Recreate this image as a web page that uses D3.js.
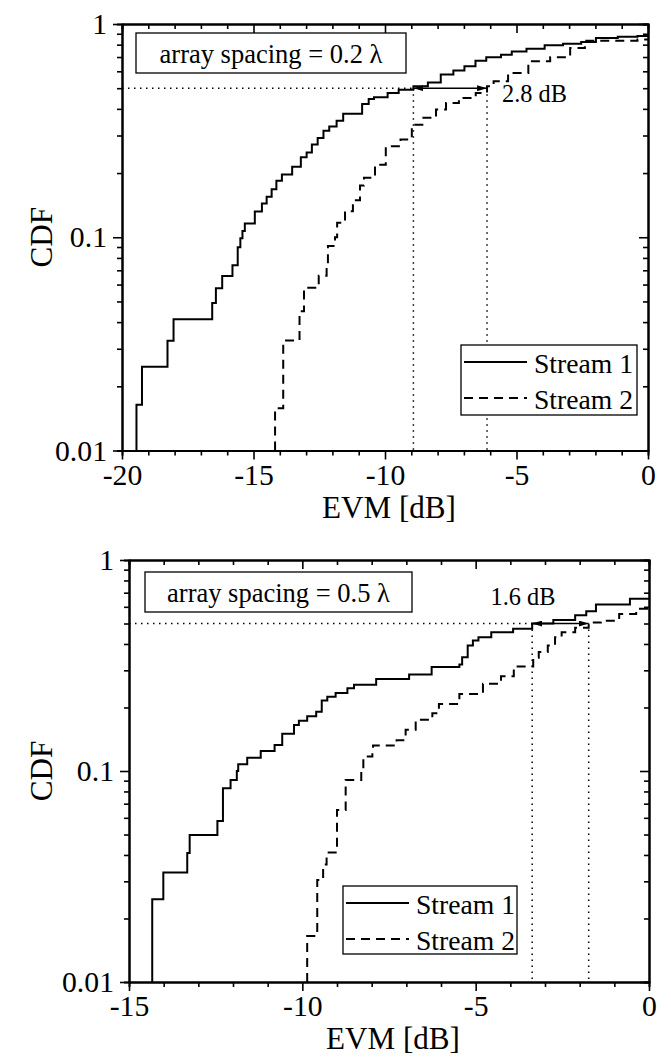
<!DOCTYPE html>
<html lang="en">
<head>
  <meta charset="UTF-8">
  <title>EVM CDF</title>
  <style>
    body { margin: 0; background: #fff; }
    svg { display: block; font-family: "Liberation Serif", "Times New Roman", serif; }
    .domain { stroke: #000; stroke-width: 2px; }
    .tick line { stroke: #000; stroke-width: 1.6px; }
    .tick text { fill: #000; }
  </style>
</head>
<body>
<script src="https://d3js.org/d3.v7.min.js"></script>
<script>
  // step points: [EVM dB, CDF level reached at that EVM]
  const stream1_02 = [
    [-19.45, 0.0164], [-19.24, 0.0247], [-18.27, 0.0327], [-18.04, 0.0412],
    [-16.57, 0.0492], [-16.43, 0.0576], [-16.19, 0.0658], [-15.80, 0.074],
    [-15.60, 0.0897], [-15.50, 0.099], [-15.42, 0.107], [-15.33, 0.116],
    [-14.95, 0.132], [-14.68, 0.144], [-14.50, 0.155], [-14.31, 0.168],
    [-14.13, 0.184], [-13.92, 0.197], [-13.53, 0.214], [-13.20, 0.237],
    [-12.98, 0.25], [-12.78, 0.272], [-12.56, 0.292], [-12.34, 0.316],
    [-12.12, 0.331], [-11.84, 0.352], [-11.59, 0.379], [-10.87, 0.422],
    [-10.62, 0.445], [-10.42, 0.453], [-9.90, 0.475], [-9.48, 0.492],
    [-8.92, 0.51], [-8.37, 0.531], [-7.88, 0.579], [-7.40, 0.606],
    [-6.98, 0.633], [-6.56, 0.673], [-6.15, 0.698], [-5.59, 0.718],
    [-5.18, 0.744], [-4.62, 0.766], [-3.93, 0.794], [-3.23, 0.809],
    [-2.54, 0.824], [-1.98, 0.859], [-1.15, 0.872], [-0.40, 0.879]
  ]
  const stream2_02 = [
    [-14.18, 0.0158], [-13.87, 0.0328], [-13.25, 0.045], [-13.08, 0.058],
    [-12.52, 0.066], [-12.22, 0.0745], [-12.17, 0.091], [-11.90, 0.1],
    [-11.82, 0.117], [-11.52, 0.1325], [-11.22, 0.149], [-10.95, 0.175],
    [-10.80, 0.19], [-10.38, 0.219], [-9.97, 0.267], [-9.41, 0.287],
    [-8.98, 0.337], [-8.58, 0.363], [-8.06, 0.397], [-7.68, 0.426],
    [-7.19, 0.45], [-6.55, 0.475], [-6.12, 0.51], [-5.87, 0.539],
    [-5.32, 0.589], [-4.55, 0.668], [-3.72, 0.698], [-2.96, 0.772],
    [-2.40, 0.835], [-0.40, 0.845]
  ]
  const stream1_05 = [
    [-14.33, 0.0247], [-14.01, 0.033], [-13.32, 0.0409], [-13.25, 0.0497],
    [-12.45, 0.058], [-12.29, 0.0828], [-12.07, 0.0906], [-11.89, 0.1],
    [-11.85, 0.1076], [-11.59, 0.1156], [-11.20, 0.1244], [-10.80, 0.1328],
    [-10.58, 0.15], [-10.24, 0.165], [-10.10, 0.173], [-9.86, 0.182],
    [-9.60, 0.191], [-9.44, 0.216], [-9.28, 0.225], [-9.04, 0.234],
    [-8.70, 0.247], [-8.51, 0.256], [-7.87, 0.273], [-6.92, 0.287],
    [-6.27, 0.311], [-5.47, 0.320], [-5.39, 0.346], [-5.23, 0.393],
    [-5.08, 0.415], [-4.92, 0.431], [-4.55, 0.455], [-3.92, 0.472],
    [-3.37, 0.5], [-2.76, 0.52], [-2.13, 0.547], [-1.81, 0.572],
    [-1.53, 0.615], [-0.55, 0.655]
  ]
  const stream2_05 = [
    [-9.86, 0.0165], [-9.57, 0.0304], [-9.40, 0.036], [-9.30, 0.0411],
    [-9.00, 0.0653], [-8.75, 0.0906], [-8.30, 0.1], [-8.24, 0.117],
    [-7.98, 0.124], [-7.96, 0.132], [-7.28, 0.140], [-7.02, 0.157],
    [-6.73, 0.175], [-6.25, 0.188], [-6.06, 0.208], [-5.47, 0.232],
    [-4.79, 0.259], [-4.27, 0.281], [-3.90, 0.313], [-3.34, 0.344],
    [-3.18, 0.366], [-2.92, 0.393], [-2.71, 0.431], [-2.52, 0.455],
    [-2.13, 0.477], [-1.74, 0.505], [-1.39, 0.516], [-0.86, 0.555],
    [-0.37, 0.587], [-0.05, 0.60]
  ]

  const yMajor = [0.01, 0.1, 1]
  const yLabels = ['0.01', '0.1', '1']
  const legendNames = ['Stream 1', 'Stream 2']
  const xTitle = 'EVM [dB]'
  const yTitle = 'CDF'

  // per panel: x range, spacing text, the two EVM points at CDF = 0.5, gap text
  const spacingText = ['array spacing = 0.2 \u03bb', 'array spacing = 0.5 \u03bb']
  const xDomains = [[-20, 0], [-15, 0]]
  const markX = [[-8.92, -6.12], [-3.37, -1.74]]
  const markY = 0.5
  const gapText = ['2.8 dB', '1.6 dB']

  const serif = '"Liberation Serif", "Times New Roman", serif'

  const svg = d3.select('body').append('svg')
    .attr('width', 671)
    .attr('height', 1059)

  // size fonts so the texts get the widths seen in the picture
  function measure(str, size) {
    const t = svg.append('text').attr('font-size', size).text(str)
    const w = t.node().getComputedTextLength()
    t.remove()
    return w
  }
  const fitSize = (str, width) => 30 * width / measure(str, 30)
  const fs = {
    tick: fitSize('0.01', 52),
    legend: fitSize('Stream 1', 99),
    box: fitSize(spacingText[0], 223),
    gap: fitSize(gapText[0], 65),
    title: fitSize(xTitle, 134)
  }

  const defs = svg.append('defs')
  defs.append('marker')
    .attr('id', 'head')
    .attr('viewBox', '0 0 10 6')
    .attr('refX', 10).attr('refY', 3)
    .attr('markerWidth', 10).attr('markerHeight', 6)
    .attr('markerUnits', 'userSpaceOnUse')
    .attr('orient', 'auto-start-reverse')
    .append('path').attr('d', 'M0,0 L10,3 L0,6 Z').attr('fill', '#000')

  const panels = [
    { left: 122, right: 648, top: 24, bottom: 450.5, s1: stream1_02, s2: stream2_02,
      box: [136, 33, 270, 40], leg: [461, 345, 176, 70], gapAt: [-5.55, 0.47] },
    { left: 129, right: 649, top: 560, bottom: 982, s1: stream1_05, s2: stream2_05,
      box: [145, 572, 267, 40], leg: [343, 886, 174, 68], gapAt: [-4.57, 0.67] }
  ]

  panels.forEach(function (p, i) {
    const x = d3.scaleLinear().domain(xDomains[i]).range([p.left, p.right])
    const y = d3.scaleLog().domain([0.01, 1]).range([p.bottom, p.top])
    const xMajor = d3.range(xDomains[i][0], 0.1, 5)
    const xMinor = d3.range(xDomains[i][0], 0.1, 1).filter(v => v % 5 !== 0)
    const yMinor = [2, 3, 4, 5, 6, 7, 8, 9].flatMap(k => [k * 0.01, k * 0.1])

    const g = svg.append('g')

    // minor ticks
    g.append('g').attr('transform', `translate(0,${p.bottom})`)
      .call(d3.axisBottom(x).tickValues(xMinor).tickSize(5).tickFormat(''))
    g.append('g').attr('transform', `translate(0,${p.top})`)
      .call(d3.axisTop(x).tickValues(xMinor).tickSize(-5).tickFormat(''))
    g.append('g').attr('transform', `translate(${p.left},0)`)
      .call(d3.axisLeft(y).tickValues(yMinor).tickSize(5).tickFormat(''))
    g.append('g').attr('transform', `translate(${p.right},0)`)
      .call(d3.axisRight(y).tickValues(yMinor).tickSize(-5).tickFormat(''))

    // major ticks
    g.append('g').attr('transform', `translate(0,${p.bottom})`)
      .call(d3.axisBottom(x).tickValues(xMajor).tickSize(9).tickSizeOuter(0).tickPadding(4)
        .tickFormat(d => String(d)))
    g.append('g').attr('transform', `translate(0,${p.top})`)
      .call(d3.axisTop(x).tickValues(xMajor).tickSize(-9).tickSizeOuter(0).tickFormat(''))
    g.append('g').attr('transform', `translate(${p.left},0)`)
      .call(d3.axisLeft(y).tickValues(yMajor).tickSize(9).tickSizeOuter(0).tickPadding(6)
        .tickFormat((d, j) => yLabels[j]))
    g.append('g').attr('transform', `translate(${p.right},0)`)
      .call(d3.axisRight(y).tickValues(yMajor).tickSize(-9).tickSizeOuter(0).tickFormat(''))

    g.selectAll('g').attr('font-family', serif).attr('font-size', fs.tick)
    g.selectAll('.domain').attr('stroke-width', 2)

    // axis titles
    g.append('text')
      .attr('x', (p.left + p.right) / 2 + 4).attr('y', p.bottom + 67)
      .attr('text-anchor', 'middle').attr('font-size', fs.title)
      .text(xTitle)
    g.append('text')
      .attr('transform', `translate(52,${(p.top + p.bottom) / 2}) rotate(-90)`)
      .attr('text-anchor', 'middle').attr('font-size', fs.title)
      .text(yTitle)

    // dotted guides at CDF = 0.5
    const dotted = g.append('g').attr('stroke', '#000').attr('stroke-width', 1.5)
      .attr('stroke-dasharray', '1.5,4.5').attr('fill', 'none')
    dotted.append('line')
      .attr('x1', p.left).attr('x2', x(markX[i][0]))
      .attr('y1', y(markY)).attr('y2', y(markY))
    markX[i].forEach(v => {
      dotted.append('line')
        .attr('x1', x(v)).attr('x2', x(v))
        .attr('y1', y(markY)).attr('y2', p.bottom)
    })

    // step curves
    const line = d3.line().x(d => x(d[0])).y(d => y(d[1])).curve(d3.curveStepAfter)
    const full = s => [[s[0][0], 0.01]].concat(s, [[0, s[s.length - 1][1]]])
    g.append('path').datum(full(p.s1))
      .attr('d', line).attr('fill', 'none').attr('stroke', '#000').attr('stroke-width', 2)
    g.append('path').datum(full(p.s2))
      .attr('d', line).attr('fill', 'none').attr('stroke', '#000').attr('stroke-width', 2)
      .attr('stroke-dasharray', '9,6')

    // gap arrow
    g.append('line')
      .attr('x1', x(markX[i][0])).attr('x2', x(markX[i][1]))
      .attr('y1', y(markY)).attr('y2', y(markY))
      .attr('stroke', '#000').attr('stroke-width', 1.6)
      .attr('marker-start', 'url(#head)').attr('marker-end', 'url(#head)')
    g.append('text')
      .attr('x', x(p.gapAt[0])).attr('y', y(p.gapAt[1]))
      .attr('dominant-baseline', 'central')
      .attr('font-size', fs.gap)
      .text(gapText[i])

    // spacing box
    g.append('rect')
      .attr('x', p.box[0]).attr('y', p.box[1]).attr('width', p.box[2]).attr('height', p.box[3])
      .attr('fill', '#fff').attr('stroke', '#000').attr('stroke-width', 1.3)
    g.append('text')
      .attr('x', p.box[0] + p.box[2] / 2).attr('y', p.box[1] + p.box[3] / 2 + 1)
      .attr('text-anchor', 'middle').attr('dominant-baseline', 'central')
      .attr('font-size', fs.box)
      .text(spacingText[i])

    // legend
    const lg = g.append('g').attr('transform', `translate(${p.leg[0]},${p.leg[1]})`)
    lg.append('rect').attr('width', p.leg[2]).attr('height', p.leg[3])
      .attr('fill', '#fff').attr('stroke', '#000').attr('stroke-width', 1.3)
    legendNames.forEach((name, j) => {
      const cy = 17 + j * 36
      lg.append('line').attr('x1', 3).attr('x2', 66).attr('y1', cy).attr('y2', cy)
        .attr('stroke', '#000').attr('stroke-width', 2)
        .attr('stroke-dasharray', j === 1 ? '9,6' : null)
      lg.append('text').attr('x', 73).attr('y', cy + 1)
        .attr('dominant-baseline', 'central').attr('font-size', fs.legend)
        .text(name)
    })
  })
</script>
</body>
</html>
